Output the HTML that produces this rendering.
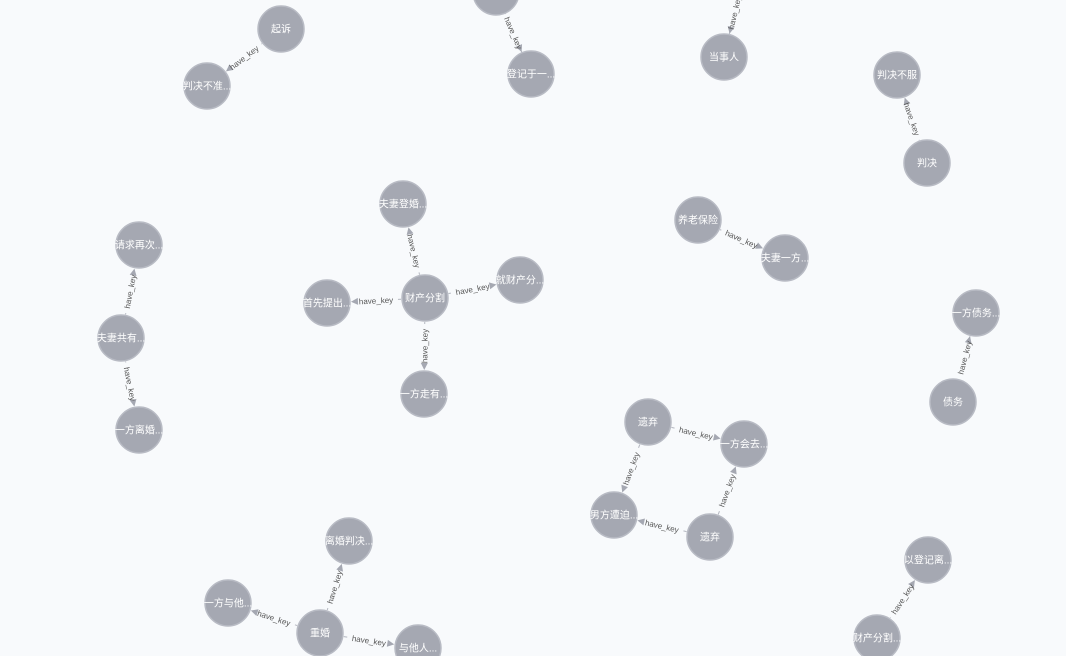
<!DOCTYPE html>
<html><head><meta charset="utf-8"><style>
html,body{margin:0;padding:0;background:#f8fafc;width:1066px;height:656px;overflow:hidden}
svg{display:block;font-family:"Liberation Sans","Noto Sans CJK SC",sans-serif}
</style></head><body>
<svg id="g" width="1066" height="656"></svg>
<script>
const nodeIds=['A','B','C','D','E','F','G','H','I','J','K','L','M','N','O','P','Q','R','S','T','U','V','W','X','Y','Z','AA','AB','AC','AD'];
const nodeLabels=['起诉','判决不准...','离婚...','登记于一...','案件...','当事人','判决不服','判决','财产分割','夫妻登婚...','就财产分...','首先提出...','一方走有...','请求再次...','夫妻共有...','一方离婚...','养老保险','夫妻一方...','一方债务...','债务','遗弃','一方会去...','男方遭迫...','遗弃','离婚判决...','一方与他...','重婚','与他人...','以登记离...','财产分割...'];
const nodeX=[281,207,496,531,745,724,897,927,425,403,520,327,424,139,121,139,698,785,976,953,648,744,614,710,349,228,320,418,928,877];
const nodeY=[29,86,-8,74,-32,57,75,163,298,204,280,303,394,245,338,430,220,258,313,402,422,444,515,537,541,603,633,648,560,638];
const edgeFrom=['A','C','E','H','I','I','I','I','O','O','Q','T','U','U','X','X','AA','AA','AA','AD'];
const edgeTo=['B','D','F','G','J','K','L','M','N','P','R','S','V','W','V','W','Y','Z','AB','AC'];
const R=23,NS='http://www.w3.org/2000/svg';
const svg=document.getElementById('g');
function mk(t,a,p){const e=document.createElementNS(NS,t);for(const k in a)e.setAttribute(k,a[k]);(p||svg).appendChild(e);return e;}
const idx=id=>nodeIds.indexOf(id);
edgeFrom.forEach((f,i)=>{
  const a=idx(f),b=idx(edgeTo[i]);
  const x1=nodeX[a],y1=nodeY[a],x2=nodeX[b],y2=nodeY[b];
  const dx=x2-x1,dy=y2-y1,L=Math.hypot(dx,dy),ux=dx/L,uy=dy/L;
  const g=mk('g',{});
  
  
  const sx=x1+ux*(R+1),sy=y1+uy*(R+1),ex=x2-ux*(R+1),ey=y2-uy*(R+1);
  const mx=(sx+ex)/2,my=(sy+ey)/2;
  const gap=22;
  mk('line',{x1:sx,y1:sy,x2:mx-ux*gap,y2:my-uy*gap,stroke:'#b4b7c0','stroke-width':1},g);
  mk('line',{x1:mx+ux*gap,y1:my+uy*gap,x2:ex-ux*6,y2:ey-uy*6,stroke:'#b4b7c0','stroke-width':1},g);
  const px=-uy,py=ux;
  mk('polygon',{points:`${ex},${ey} ${ex-ux*7+px*3.5},${ey-uy*7+py*3.5} ${ex-ux*7-px*3.5},${ey-uy*7-py*3.5}`,fill:'#a5a8b2'},g);
  let ang=Math.atan2(dy,dx)*180/Math.PI;
  if(ang>90)ang-=180;if(ang<-90)ang+=180;
  const t=mk('text',{x:mx,y:my+3,'text-anchor':'middle','font-size':8,fill:'#555',transform:`rotate(${ang} ${mx} ${my})`},g);
  t.textContent='have_key';
});
nodeIds.forEach((id,i)=>{
  const g=mk('g',{});
  
  
  mk('circle',{cx:nodeX[i],cy:nodeY[i],r:R,fill:'#a5a8b2',stroke:'#b8bbc4','stroke-width':1.5},g);
  const t=mk('text',{x:nodeX[i],y:nodeY[i]+3.5,'text-anchor':'middle','font-size':10,fill:'#fff'},g);
  t.textContent=nodeLabels[i];
});
</script>
</body></html>
